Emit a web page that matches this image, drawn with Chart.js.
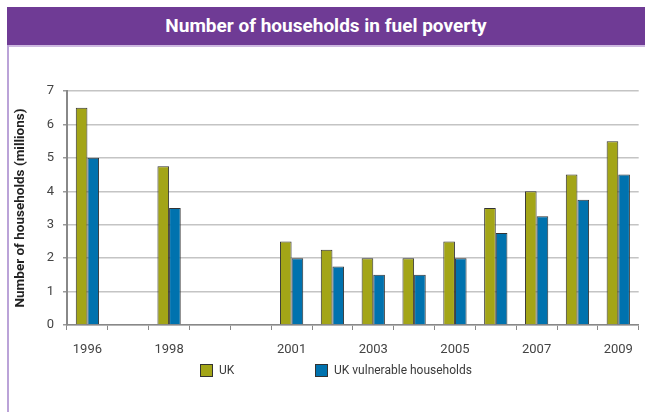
<!DOCTYPE html>
<html>
<head>
<meta charset="utf-8">
<script src="https://cdn.jsdelivr.net/npm/chart.js@4"></script>
<style>
  body { margin: 0; background: #fff; font-family: Roboto, sans-serif; }
  #page { position: relative; width: 645px; height: 412px; overflow: hidden; }
  #title {
    position: absolute; left: 7px; top: 7px; width: 638px; height: 38px;
    background: #6f3b95; color: #fff; font: bold 19px Roboto, sans-serif;
    text-align: center; line-height: 38px;
  }
  #rule { position: absolute; left: 7px; top: 45px; width: 638px; height: 2px; background: #cdb9e0; }
  #side { position: absolute; left: 7px; top: 45px; width: 2px; height: 367px; background: #bba3d8; }
  #wrap { position: absolute; left: 0; top: 45px; width: 645px; height: 367px; }
  #legend { position: absolute; top: 363px; left: 0; width: 645px; height: 14px; }
  .item { position: absolute; top: 0; display: flex; align-items: center; font: 12px Roboto, sans-serif; color: #3a3a3a; }
  .box { width: 11px; height: 11px; border: 1px solid #333; margin-right: 6px; }
</style>
</head>
<body>
<div id="page">
  <div id="title">Number of households in fuel poverty</div>
  <div id="rule"></div>
  <div id="side"></div>
  <div id="wrap"><canvas id="chart"></canvas></div>
  <div id="legend"></div>
</div>
<script>
// years on the axis (1997, 1999 and 2000 have no data)
const years = ['1996', '1997', '1998', '1999', '2000', '2001', '2002', '2003', '2004', '2005', '2006', '2007', '2008', '2009'];
const shownYears = ['1996', '1998', '2001', '2003', '2005', '2007', '2009'];
const ukValues = [6.5, null, 4.75, null, null, 2.5, 2.25, 2.0, 2.0, 2.5, 3.5, 4.0, 4.5, 5.5];
const vulnerableValues = [5.0, null, 3.5, null, null, 2.0, 1.75, 1.5, 1.5, 2.0, 2.75, 3.25, 3.75, 4.5];
const yTicks = [0, 1, 2, 3, 4, 5, 6, 7];

const tickFont = { family: 'Roboto', size: 13 };

const chart = new Chart(document.getElementById('chart'), {
    type: 'bar',
    data: {
        labels: years,
        datasets: [{
            label: 'UK',
            data: ukValues,
            backgroundColor: '#a3a517',
            borderColor: '#333',
            borderWidth: 1,
            categoryPercentage: 0.57,
            barPercentage: 1.0
        }, {
            label: 'UK vulnerable households',
            data: vulnerableValues,
            backgroundColor: '#0072ae',
            borderColor: '#333',
            borderWidth: 1,
            categoryPercentage: 0.57,
            barPercentage: 1.0
        }]
    },
    options: {
        responsive: true,
        maintainAspectRatio: false,
        animation: false,
        layout: { padding: { left: 8, right: 3, top: 46, bottom: 47 } },
        plugins: {
            legend: { display: false },
            tooltip: { enabled: false }
        },
        scales: {
            x: {
                afterFit: scale => { scale.height = 40; },
                grid: {
                    offset: true,
                    drawOnChartArea: false,
                    tickLength: 5,
                    tickColor: '#888'
                },
                border: { color: '#888', width: 1.5 },
                ticks: {
                    autoSkip: false,
                    maxRotation: 0,
                    padding: 12,
                    color: '#444',
                    font: tickFont,
                    callback: function (value) {
                        const label = this.getLabelForValue(value);
                        return shownYears.includes(label) ? label : '';
                    }
                }
            },
            y: {
                min: 0,
                max: 7,
                afterFit: scale => { scale.width = 59; },
                afterBuildTicks: scale => { scale.ticks = yTicks.map(v => ({ value: v })); },
                grid: {
                    color: '#c4c4c4',
                    lineWidth: 1.5,
                    tickLength: 4,
                    tickColor: '#999'
                },
                border: { color: '#888', width: 2 },
                ticks: {
                    padding: 9,
                    color: '#444',
                    font: tickFont
                },
                title: {
                    display: true,
                    text: 'Number of households (millions)',
                    color: '#222',
                    font: { family: 'Roboto', size: 13.5, weight: 'bold' },
                    padding: { top: 5, bottom: 0 }
                }
            }
        }
    }
});

// legend built from the chart's datasets
const legendLeft = [200, 315];
const legend = document.getElementById('legend');
chart.data.datasets.forEach((ds, i) => {
    const item = document.createElement('div');
    item.className = 'item';
    item.style.left = legendLeft[i] + 'px';
    const box = document.createElement('span');
    box.className = 'box';
    box.style.background = ds.backgroundColor;
    item.appendChild(box);
    item.appendChild(document.createTextNode(ds.label));
    legend.appendChild(item);
});
</script>
</body>
</html>
